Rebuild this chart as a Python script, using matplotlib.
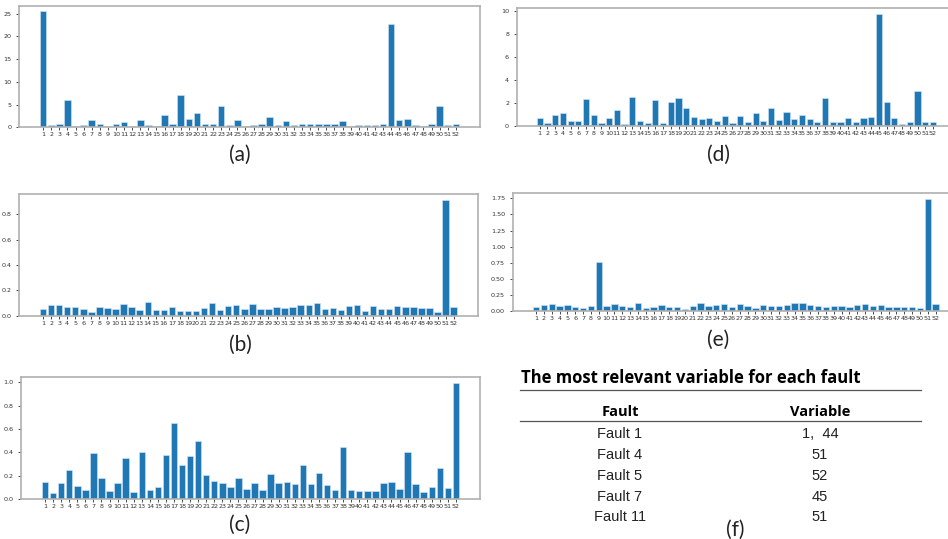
import matplotlib.pyplot as plt
import numpy as np
from matplotlib.lines import Line2D

variables = list(range(1, 53))

fault_1 = [25.5, 0.6, 0.8, 6.0, 0.25, 0.4, 1.6, 0.8, 0.25, 0.8,
           1.2, 0.35, 1.6, 0.4, 0.35, 2.6, 0.7, 7.1, 1.9, 3.1,
           0.8, 0.7, 4.8, 0.4, 1.7, 0.3, 0.5, 0.8, 2.2, 0.5,
           1.4, 0.6, 0.8, 0.8, 0.7, 0.7, 0.8, 1.3, 0.3, 0.4,
           0.4, 0.4, 0.7, 22.8, 1.5, 1.9, 0.4, 0.2, 0.7, 4.8,
           0.5, 0.7]

fault_7 = [0.67, 0.23, 0.93, 1.1, 0.43, 0.43, 2.29, 0.96, 0.26, 0.67,
           1.39, 0.17, 2.55, 0.38, 0.26, 2.26, 0.23, 2.09, 2.38, 1.59,
           0.78, 0.55, 0.7, 0.43, 0.87, 0.23, 0.81, 0.35, 1.13, 0.41,
           1.57, 0.49, 1.19, 0.55, 0.9, 0.55, 0.29, 2.43, 0.35, 0.29,
           0.64, 0.29, 0.64, 0.75, 9.77, 2.03, 0.67, 0.17, 0.29, 3.04,
           0.35, 0.29]

fault_4 = [0.053, 0.087, 0.082, 0.068, 0.071, 0.055, 0.032, 0.068, 0.063, 0.055,
           0.095, 0.068, 0.047, 0.11, 0.047, 0.042, 0.068, 0.04, 0.04, 0.034,
           0.06, 0.1, 0.047, 0.079, 0.087, 0.053, 0.09, 0.05, 0.053, 0.066,
           0.058, 0.066, 0.087, 0.084, 0.097, 0.05, 0.063, 0.047, 0.074, 0.084,
           0.04, 0.076, 0.055, 0.053, 0.079, 0.066, 0.066, 0.058, 0.063, 0.029,
           0.913, 0.068]

fault_11 = [0.062, 0.098, 0.109, 0.088, 0.093, 0.067, 0.052, 0.088, 0.756, 0.078,
            0.109, 0.088, 0.072, 0.135, 0.057, 0.067, 0.093, 0.072, 0.072, 0.041,
            0.088, 0.129, 0.078, 0.1, 0.119, 0.072, 0.114, 0.078, 0.047, 0.104,
            0.083, 0.078, 0.093, 0.124, 0.135, 0.104, 0.078, 0.072, 0.078, 0.088,
            0.067, 0.098, 0.119, 0.078, 0.098, 0.062, 0.067, 0.072, 0.072, 0.057,
            1.74, 0.109]

fault_5 = [0.149, 0.052, 0.138, 0.246, 0.109, 0.08, 0.398, 0.178, 0.072, 0.138,
           0.352, 0.057, 0.407, 0.08, 0.103, 0.381, 0.65, 0.295, 0.367, 0.499,
           0.203, 0.152, 0.138, 0.106, 0.183, 0.089, 0.14, 0.08, 0.215, 0.135,
           0.149, 0.126, 0.295, 0.126, 0.221, 0.117, 0.074, 0.444, 0.077, 0.072,
           0.069, 0.069, 0.135, 0.149, 0.086, 0.407, 0.126, 0.057, 0.1, 0.269,
           0.092, 0.994]

table_title = "The most relevant variable for each fault"
table_header = ["Fault", "Variable"]
table_faults = ["Fault 1", "Fault 4", "Fault 5", "Fault 7", "Fault 11"]
table_vars = ["1,  44", "51", "52", "45", "51"]

W, H = 948, 539
fig = plt.figure(figsize=(W / 100, H / 100), dpi=100)


def px(x0, y0, x1, y1):
    # pixel box (left, top, right, bottom) -> figure fraction rect
    return [x0 / W, 1 - y1 / H, (x1 - x0) / W, (y1 - y0) / H]


def bar_panel(rect, values, yticks, label, label_xy):
    ax = fig.add_axes(rect)
    ax.bar(variables, values, width=0.8, color="#1f77b4",
           edgecolor="#d6e6f4", linewidth=0.4)
    ax.set_xticks(variables)
    ax.set_xticklabels([str(v) for v in variables], fontsize=4.6, color="#333333")
    ax.set_yticks(yticks)
    ax.tick_params(axis="y", labelsize=4.6, labelcolor="#333333", length=2, width=0.5)
    ax.tick_params(axis="x", length=2, width=0.5, pad=1.5)
    for s in ax.spines.values():
        s.set_color("#b0b0b0")
        s.set_linewidth(1.2)
    fig.text(label_xy[0] / W, 1 - label_xy[1] / H, label, fontsize=15,
             family="Lato", ha="center", va="center", color="#222222")
    return ax


bar_panel(px(19, 5.7, 480, 127.3), fault_1, [0, 5, 10, 15, 20, 25], "(a)", (240, 155))
bar_panel(px(516.7, 8.3, 956, 125.7), fault_7, [0, 2, 4, 6, 8, 10], "(d)", (718, 155))
bar_panel(px(19, 194.3, 477.7, 315.7), fault_4, [0.0, 0.2, 0.4, 0.6, 0.8], "(b)", (240, 345))
ax_e = bar_panel(px(512.7, 193.3, 959, 311.3), fault_11,
                 [0.0, 0.25, 0.5, 0.75, 1.0, 1.25, 1.5, 1.75], "(e)", (718, 340))
ax_e.yaxis.set_major_formatter(plt.FormatStrFormatter("%.2f"))
bar_panel(px(21, 377.3, 480, 499), fault_5, [0.0, 0.2, 0.4, 0.6, 0.8, 1.0], "(c)", (240, 525))

# table (f)
fig.text(520.7 / W, 1 - 378 / H, table_title, fontsize=12, weight="bold",
         family="Open Sans", ha="left", va="center", color="black")
for yl in [390, 421]:
    fig.add_artist(Line2D([520 / W, 921 / W], [1 - yl / H, 1 - yl / H],
                          transform=fig.transFigure, color="#555555", linewidth=0.9))
fig.text(620.7 / W, 1 - 412 / H, table_header[0], fontsize=10.5, weight="bold",
         family="Open Sans", ha="center", va="center")
fig.text(820 / W, 1 - 412 / H, table_header[1], fontsize=10.5, weight="bold",
         family="Open Sans", ha="center", va="center")
row_y = [434, 455, 476, 497, 517]
for yy, fname, var in zip(row_y, table_faults, table_vars):
    fig.text(620 / W, 1 - yy / H, fname, fontsize=10.5, family="Liberation Sans",
             ha="center", va="center", color="#222222")
    fig.text(820 / W, 1 - yy / H, var, fontsize=10.5, family="Liberation Sans",
             ha="center", va="center", color="#222222")
fig.text(735 / W, 1 - 530 / H, "(f)", fontsize=15, family="Lato",
         ha="center", va="center", color="#222222")

fig.savefig("out.png", dpi=100)
